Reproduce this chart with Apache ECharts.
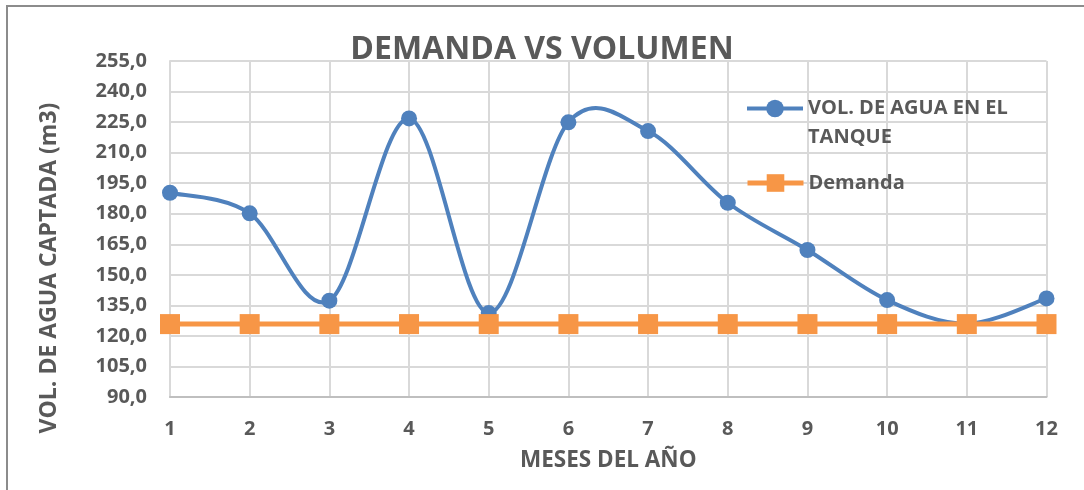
<!DOCTYPE html>
<html><head><meta charset="utf-8">
<script src="https://cdn.jsdelivr.net/npm/echarts@6/dist/echarts.min.js"></script>
<style>html,body{margin:0;padding:0;background:#fff}#c{width:1084px;height:490px}</style>
</head><body><div id="c"></div>
<script>
const months = ['1','2','3','4','5','6','7','8','9','10','11','12'];
const volumen = [190.3, 180.2, 137.3, 226.8, 131.2, 224.9, 220.6, 185.4, 162.2, 137.6, 126.0, 138.4];
const demanda = [125.8, 125.8, 125.8, 125.8, 125.8, 125.8, 125.8, 125.8, 125.8, 125.8, 125.8, 125.8];
const yMin = 90, yMax = 255, yStep = 15;
const titleText = 'DEMANDA VS VOLUMEN';
const xName = 'MESES DEL AÑO';
const yName = 'VOL. DE AGUA CAPTADA (m3)';
const volName = 'VOL. DE AGUA EN EL TANQUE';
const demName = 'Demanda';

const FONT = 'Open Sans';
const TXT = '#595959';
const BLUE = '#4F81BD', ORANGE = '#F79646';
const chart = echarts.init(document.getElementById('c'), null, {renderer: 'canvas'});

// Excel-like smoothed curve (cardinal spline) drawn through library coordinates
function renderCurve(params, api) {
  if (params.dataIndex !== 0) return;
  const pts = volumen.map((v, i) => api.coord([i, v]));
  const n = pts.length;
  let path = 'M' + pts[0][0] + ' ' + pts[0][1];
  for (let i = 0; i < n - 1; i++) {
    const p0 = pts[Math.max(i - 1, 0)], p1 = pts[i], p2 = pts[i + 1], p3 = pts[Math.min(i + 2, n - 1)];
    const c1 = [p1[0] + (p2[0] - p0[0]) / 6, p1[1] + (p2[1] - p0[1]) / 6];
    const c2 = [p2[0] - (p3[0] - p1[0]) / 6, p2[1] - (p3[1] - p1[1]) / 6];
    path += ' C' + c1[0] + ' ' + c1[1] + ' ' + c2[0] + ' ' + c2[1] + ' ' + p2[0] + ' ' + p2[1];
  }
  return {type: 'path', shape: {pathData: path}, style: {fill: 'none', stroke: BLUE, lineWidth: 4, lineCap: 'round', lineJoin: 'round'}, silent: true};
}

chart.setOption({
  animation: false,
  backgroundColor: '#fff',
  title: {
    text: titleText, left: 'center', top: 29,
    textStyle: {fontFamily: FONT, fontWeight: 'bold', fontSize: 32, color: TXT}
  },
  grid: {left: 170, right: 37.5, top: 61, bottom: 93, containLabel: false},
  legend: [{
    data: [{name: volName, lineStyle: {color: BLUE, width: 4, opacity: 1}, itemStyle: {color: BLUE, opacity: 1}}],
    orient: 'vertical', left: 745, top: 65, padding: 0,
    itemWidth: 56, itemHeight: 22,
    formatter: () => '\nVOL. DE AGUA EN EL\nTANQUE',
    textStyle: {fontFamily: FONT, fontWeight: 'bold', fontSize: 20, color: TXT, lineHeight: 29}
  }, {
    data: [{name: demName, lineStyle: {color: ORANGE, width: 5, opacity: 1}, itemStyle: {color: ORANGE}}],
    orient: 'vertical', left: 745, top: 173, padding: 0,
    itemWidth: 56, itemHeight: 22,
    textStyle: {fontFamily: FONT, fontWeight: 'bold', fontSize: 20, color: TXT}
  }],
  xAxis: {
    type: 'category', data: months, boundaryGap: false,
    axisLine: {lineStyle: {color: '#bfbfbf', width: 2}},
    axisTick: {show: false},
    axisLabel: {fontFamily: FONT, fontWeight: 'bold', fontSize: 20, color: TXT, margin: 22},
    splitLine: {show: true, lineStyle: {color: '#d9d9d9', width: 2}},
    name: xName, nameLocation: 'middle', nameGap: 52,
    nameTextStyle: {fontFamily: FONT, fontWeight: 'bold', fontSize: 22.5, color: TXT}
  },
  yAxis: {
    type: 'value', min: yMin, max: yMax, interval: yStep,
    axisLine: {show: true, lineStyle: {color: '#d9d9d9', width: 2}},
    axisTick: {show: false},
    axisLabel: {fontFamily: FONT, fontWeight: 'bold', fontSize: 20, color: TXT, margin: 23,
      formatter: v => v.toFixed(1).replace('.', ',')},
    splitLine: {show: true, lineStyle: {color: '#d9d9d9', width: 2}}
  },
  graphic: [
    {type: 'rect', shape: {x: 7, y: 6, width: 1200, height: 600}, silent: true,
     style: {fill: 'none', stroke: '#8c8c8c', lineWidth: 2}},
    {type: 'text', x: 49, y: 268, rotation: Math.PI / 2, silent: true,
     style: {text: yName, fontFamily: FONT, fontWeight: 'bold', fontSize: 23, fill: TXT,
             align: 'center', verticalAlign: 'middle'}}
  ],
  series: [{
    name: volName + '_curve', type: 'custom', data: volumen.map((v, i) => [i, v]),
    renderItem: renderCurve, z: 2, silent: true
  }, {
    name: volName, type: 'line', data: volumen,
    symbol: 'circle', symbolSize: 16,
    lineStyle: {color: BLUE, width: 4, opacity: 0},
    itemStyle: {color: BLUE}, z: 2
  }, {
    name: demName, type: 'line', data: demanda,
    symbol: 'rect', symbolSize: 20,
    lineStyle: {color: ORANGE, width: 5},
    itemStyle: {color: ORANGE}, z: 3
  }]
});
</script></body></html>
